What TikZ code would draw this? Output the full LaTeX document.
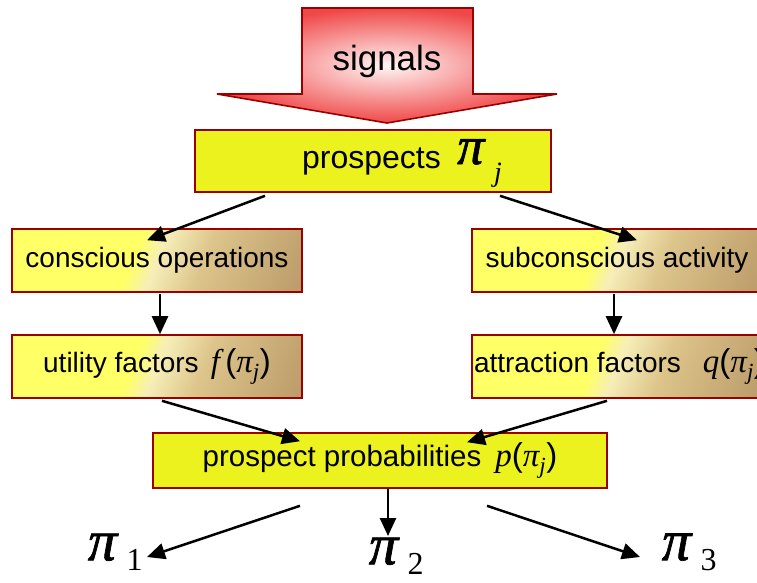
\documentclass[tikz,border=0pt]{standalone}
\usepackage{fontspec}
\setmainfont{Liberation Sans}
\newfontfamily\greekserif{Liberation Serif}
\newfontfamily\symbolpi[FakeBold=1.2,FakeSlant=0.18]{Liberation Serif}
\usetikzlibrary{arrows.meta,positioning}

\definecolor{boxYellow}{HTML}{FFFF66}
\definecolor{boxPale}{HTML}{F6EEB8}
\definecolor{boxTan}{HTML}{DCC48A}
\definecolor{boxBrown}{HTML}{A07A50}
\definecolor{boxLime}{HTML}{ECF21E}
\definecolor{boxBorder}{HTML}{990000}
\definecolor{signalRed}{HTML}{F04848}
\pgfdeclarehorizontalshading{sideShade}{100bp}{color(0bp)=(boxYellow); color(45bp)=(boxYellow); color(50bp)=(boxPale); color(60bp)=(boxTan); color(100bp)=(boxBrown)}

\newcommand{\mi}[1]{{\greekserif\itshape #1}}
\newcommand{\bigpi}{{\symbolpi π}}
\newcommand{\pij}{\mi{π}\textsubscript{\mi{j}}}
\newcommand{\mathsz}{\fontsize{33}{34}\selectfont}

\begin{document}
\begin{tikzpicture}[x=1pt,y=-1pt,
  sidebox/.style={draw=boxBorder,line width=1.6pt,shading=sideShade,shading angle=-22,
    minimum width=290pt,minimum height=63pt,inner sep=0pt,font=\fontsize{28}{30}\selectfont},
  mainbox/.style={draw=boxBorder,line width=1.6pt,left color=boxLime,
    middle color=white!90!yellow,right color=boxLime,inner sep=0pt},
  flow/.style={line width=2.5pt,-{Triangle[length=18pt,width=16pt]}}]
\useasboundingbox (0,0) rectangle (757,582);

% incoming signals
\shade[draw=boxBorder,line width=1.6pt,inner color=red!4,outer color=signalRed]
  (302,8) -- (473,8) -- (473,94) -- (557,94) -- (387,123) -- (217,94) -- (302,94) -- cycle;
\node (signals) at (387,61) {\fontsize{35}{38}\selectfont signals};

\node[mainbox,minimum width=356pt,minimum height=62pt] (prospects) at (373,161)
  {\hspace*{58pt}\raisebox{-4pt}{\fontsize{32}{34}\selectfont prospects}\hspace{14pt}\smash{{\fontsize{54}{54}\selectfont\bigpi}\hspace{12pt}\raisebox{-17pt}{\fontsize{28}{28}\selectfont\mi{j}}}};

\node[sidebox] (conscious) at (157,260.5) {\raisebox{-3pt}{conscious operations}};
\node[sidebox] (utility) at (157,366.5) {utility factors\hspace{12pt}{\mathsz\mi{f}\,(\pij)}};
\node[sidebox] (subconscious) at (617,260.5) {\raisebox{-3pt}{subconscious activity}};
\node[sidebox] (attraction) at (617,366.5) {\makebox[286pt][l]{attraction factors\hspace{22pt}{\mathsz\mi{q}(\pij)}}};

\node[mainbox,minimum width=454pt,minimum height=55pt] (probs) at (380,460.5)
  {\fontsize{29.5}{30}\selectfont prospect probabilities\hspace{14pt}{\mathsz\mi{p}(\pij)}};

\foreach \k/\px/\py in {1/114/552,2/395/556,3/688/552}
  \node[inner sep=0pt] (pi\k) at (\px,\py)
    {{\fontsize{58}{58}\selectfont\bigpi}\hspace{12pt}\raisebox{-10pt}{\fontsize{32}{32}\selectfont\greekserif\k}};

\draw[flow] ([xshift=-108pt,yshift=-3pt]prospects.south) -- ([xshift=-10pt,yshift=-12pt]conscious.north);
\draw[flow] ([xshift=127pt,yshift=-3pt]prospects.south) -- ([xshift=20pt,yshift=-12pt]subconscious.north);
\draw[flow] ([xshift=3pt,yshift=-1pt]conscious.south) -- ([xshift=3pt]utility.north);
\draw[flow] ([xshift=-3pt,yshift=-1pt]subconscious.south) -- ([xshift=-3pt]attraction.north);
\draw[flow] ([xshift=5pt,yshift=-2pt]utility.south) -- ([xshift=-80pt,yshift=-9pt]probs.north);
\draw[flow] ([xshift=-10pt,yshift=-2pt]attraction.south) -- ([xshift=87pt,yshift=-10pt]probs.north);
\draw[flow] ([xshift=-80pt,yshift=-17pt]probs.south) -- ([xshift=33pt,yshift=-5pt]pi1.center);
\draw[flow] ([xshift=8pt]probs.south) -- ([xshift=-7pt,yshift=20pt]pi2.center);
\draw[flow] ([xshift=107pt,yshift=-17pt]probs.south) -- ([xshift=-48pt,yshift=-5pt]pi3.center);
\end{tikzpicture}
\end{document}
